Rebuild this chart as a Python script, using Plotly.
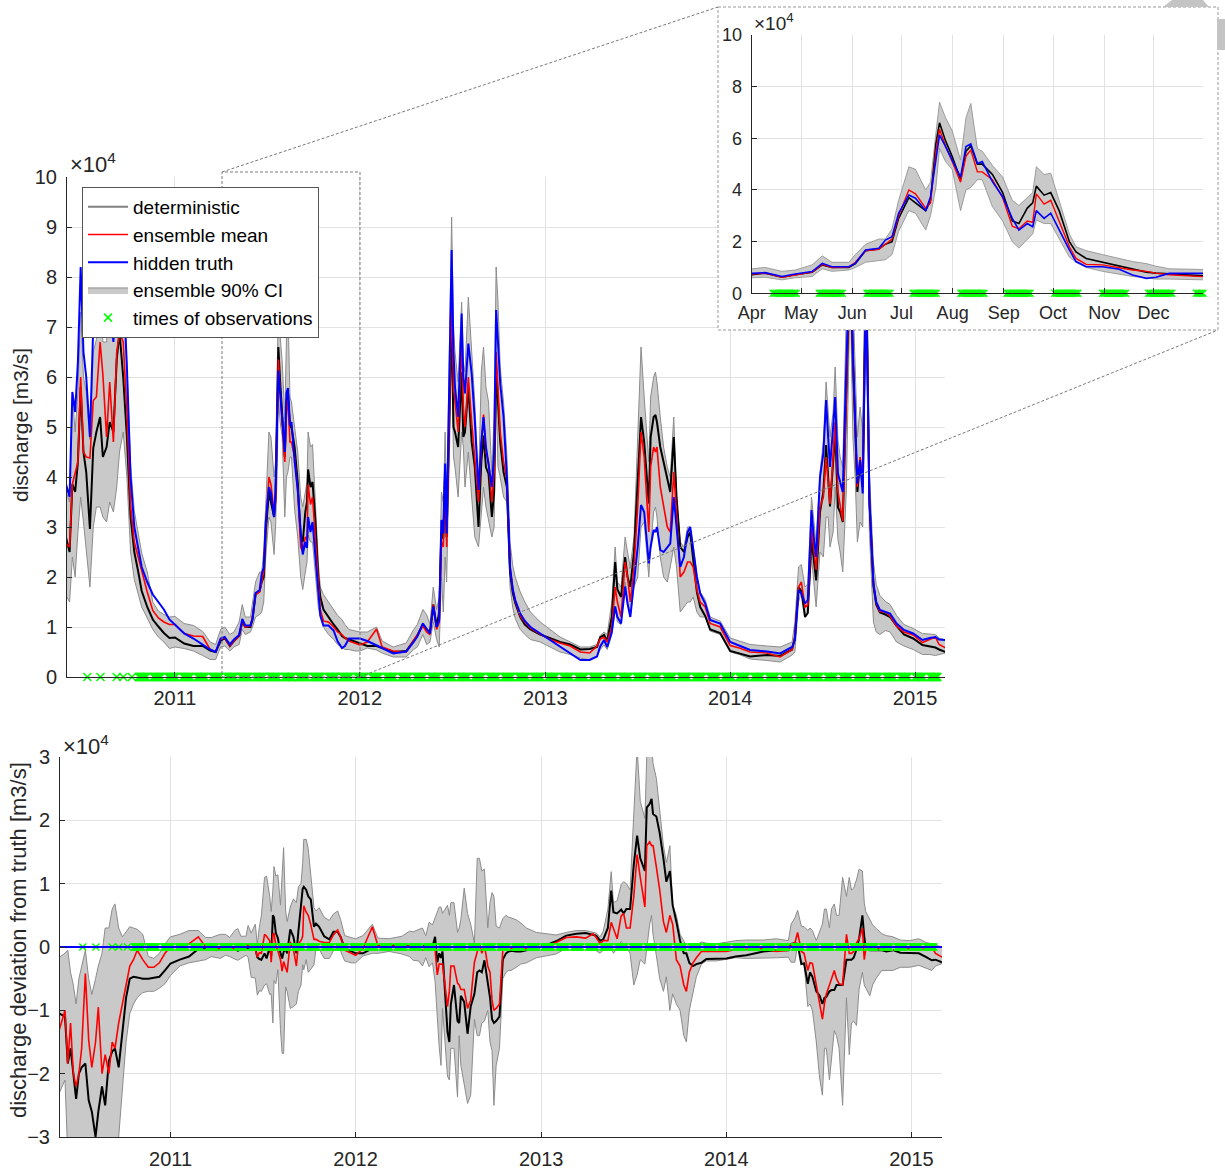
import numpy as np
import pandas as pd
import plotly.graph_objects as go

# ---------------- data (discharge in units of 1e4 m3/s) ----------------
# time in decimal years
T = [2010.40, 2010.43, 2010.445, 2010.46, 2010.475, 2010.49, 2010.505, 2010.52, 2010.54, 2010.558,
     2010.575, 2010.595, 2010.61, 2010.63, 2010.647, 2010.667, 2010.685, 2010.70, 2010.72, 2010.74,
     2010.76, 2010.78,
     2010.80, 2010.82, 2010.85, 2010.88, 2010.91, 2010.94, 2010.97, 2011.0, 2011.05, 2011.10,
     2011.15, 2011.19, 2011.22,
     2011.247, 2011.269, 2011.297, 2011.319, 2011.347, 2011.364, 2011.38, 2011.408, 2011.419, 2011.436,
     2011.458, 2011.469, 2011.48, 2011.491, 2011.508, 2011.519, 2011.536, 2011.544, 2011.553, 2011.559,
     2011.569, 2011.58, 2011.594, 2011.603, 2011.611, 2011.622, 2011.63, 2011.647, 2011.664, 2011.68,
     2011.691, 2011.705, 2011.714, 2011.72, 2011.733, 2011.744, 2011.758, 2011.775, 2011.786, 2011.803,
     2011.83, 2011.858, 2011.88, 2011.903, 2011.919, 2011.941, 2011.975,
     2012.0, 2012.04, 2012.09, 2012.12, 2012.18, 2012.25, 2012.29, 2012.31, 2012.34, 2012.36,
     2012.378, 2012.396, 2012.414, 2012.428, 2012.44, 2012.45, 2012.46, 2012.468, 2012.495, 2012.505,
     2012.513, 2012.53, 2012.549, 2012.558, 2012.567, 2012.585, 2012.603, 2012.62, 2012.64, 2012.655,
     2012.667, 2012.68, 2012.694, 2012.712, 2012.724, 2012.735, 2012.745, 2012.757, 2012.775, 2012.793,
     2012.81, 2012.825, 2012.838, 2012.865, 2012.89, 2012.92, 2012.973, 2013.027, 2013.08, 2013.135,
     2013.19, 2013.24, 2013.28,
     2013.297, 2013.318, 2013.335, 2013.36, 2013.378, 2013.39, 2013.41, 2013.432, 2013.445, 2013.46,
     2013.48, 2013.50, 2013.518, 2013.535, 2013.56, 2013.57, 2013.586, 2013.596, 2013.604, 2013.622,
     2013.64, 2013.66, 2013.676, 2013.695, 2013.71, 2013.73, 2013.75, 2013.77, 2013.784, 2013.80,
     2013.82, 2013.838, 2013.865, 2013.892, 2013.946, 2014.0, 2014.05, 2014.108, 2014.2, 2014.27,
     2014.335,
     2014.35, 2014.37, 2014.385, 2014.405, 2014.42, 2014.44, 2014.452, 2014.465, 2014.486, 2014.504,
     2014.519, 2014.53, 2014.54, 2014.557, 2014.568, 2014.583, 2014.595, 2014.609, 2014.628, 2014.649,
     2014.664, 2014.676, 2014.688, 2014.703, 2014.717, 2014.735, 2014.745, 2014.753, 2014.775, 2014.79,
     2014.81, 2014.84, 2014.865, 2014.9, 2014.94, 2014.99, 2015.04, 2015.08, 2015.11, 2015.13,
     2015.165]

TRUTH = [4.0, 3.6, 5.7, 5.3, 6.3, 8.2, 6.5, 6.0, 4.8, 7.0, 7.5, 8.2, 7.0, 6.8, 7.6, 6.7, 8.0, 8.5, 7.9, 6.2, 4.0, 3.0,
         2.6, 2.2, 1.9, 1.65, 1.5, 1.35, 1.15, 1.05, 0.87, 0.77, 0.65, 0.55, 0.5,
         0.77, 0.8, 0.65, 0.75, 0.84, 1.16, 1.03, 1.03, 1.16, 1.68, 1.74, 2.06, 2.19, 3.1, 3.8, 3.68, 3.2, 3.74, 5.3, 6.13,
         5.68, 5.16, 4.5, 5.68, 5.78, 5.03, 5.1, 4.32, 3.74, 2.9, 2.45, 2.7, 2.58, 3.2, 2.9, 3.1, 2.45, 1.68, 1.23, 1.03,
         1.03, 0.93, 0.71, 0.58, 0.62, 0.77, 0.77,
         0.77, 0.72, 0.64, 0.58, 0.47, 0.51, 0.7, 0.81, 1.07, 0.95, 0.87, 1.41, 1.0, 1.14, 3.14, 2.87, 4.27, 2.87, 8.54, 6.5,
         5.8, 5.2, 7.27, 6.0, 5.67, 6.67, 6.07, 5.14, 3.74, 4.7, 5.2, 4.6, 4.27, 3.8, 4.5, 7.34, 6.7, 5.87, 5.2, 4.0,
         2.2, 1.75, 1.54, 1.27, 1.12, 1.0, 0.87, 0.74, 0.61, 0.47, 0.34, 0.34, 0.41,
         0.61, 0.74, 0.6, 0.9, 1.41, 1.2, 1.07, 1.81, 1.47, 1.2, 1.9, 2.6, 3.44, 3.3, 2.27, 2.6, 2.94, 2.9, 3.0, 2.54,
         2.5, 2.6, 2.67, 3.6, 2.94, 2.2, 2.4, 2.9, 3.0, 2.6, 2.0, 1.67, 1.47, 1.14, 1.07, 0.7, 0.62, 0.54, 0.51, 0.47,
         0.6,
         0.74, 1.74, 1.67, 1.47, 1.54, 3.34, 2.8, 2.4, 4.0, 4.47, 5.54, 4.8, 4.2, 5.0, 5.6, 4.07, 3.9, 3.7, 6.2, 8.6,
         6.5, 5.2, 3.87, 4.34, 3.67, 8.0, 5.5, 3.54, 1.87, 1.5, 1.34, 1.3, 1.27, 1.07, 0.94, 0.87, 0.74, 0.78, 0.8, 0.75,
         0.74]

DET = [2.95, 2.5, 3.86, 3.7, 4.3, 5.8, 4.5, 4.1, 2.96, 4.58, 4.9, 5.2, 4.4, 4.6, 5.1, 4.9, 6.35, 6.9, 6.0, 4.8, 3.2, 2.5,
       2.13, 1.72, 1.4, 1.15, 1.01, 0.88, 0.78, 0.79, 0.67, 0.62, 0.62, 0.53, 0.5,
       0.72, 0.78, 0.62, 0.72, 0.82, 1.1, 1.0, 1.0, 1.15, 1.65, 1.72, 1.9, 2.0, 2.9, 3.7, 3.5, 3.2, 3.6, 5.8, 6.6,
       5.9, 5.3, 4.4, 5.5, 5.7, 5.0, 5.0, 4.6, 3.9, 2.8, 2.7, 3.3, 3.5, 4.15, 3.8, 3.9, 3.2, 2.0, 1.6, 1.35,
       1.2, 1.05, 0.95, 0.82, 0.78, 0.75, 0.7,
       0.67, 0.62, 0.62, 0.58, 0.5, 0.52, 0.72, 0.83, 1.05, 0.95, 0.9, 1.45, 1.0, 1.3, 2.9, 2.77, 4.1, 2.8, 7.2, 5.0,
       4.9, 4.6, 6.1, 4.8, 4.9, 5.8, 4.7, 4.2, 3.0, 4.3, 4.83, 4.2, 4.06, 3.2, 3.7, 6.2, 5.5, 4.7, 4.1, 3.8,
       2.1, 1.68, 1.48, 1.2, 1.05, 0.95, 0.85, 0.77, 0.7, 0.65, 0.55, 0.56, 0.6,
       0.79, 0.84, 0.72, 1.2, 2.3, 1.75, 1.6, 2.4, 2.0, 1.8, 2.5, 3.9, 5.2, 4.7, 3.47, 4.8, 5.2, 5.24, 5.1, 4.6,
       4.3, 4.0, 3.7, 4.8, 3.6, 2.6, 2.5, 2.8, 2.9, 2.35, 1.7, 1.4, 1.22, 0.95, 0.88, 0.52, 0.47, 0.41, 0.44, 0.42,
       0.55,
       0.79, 1.8, 1.72, 1.2, 1.28, 2.76, 2.4, 1.93, 3.3, 3.7, 4.64, 4.0, 3.41, 4.3, 4.92, 3.39, 3.3, 3.1, 5.6, 8.4,
       6.3, 5.0, 3.7, 4.3, 3.8, 8.5, 5.66, 3.55, 1.82, 1.45, 1.29, 1.25, 1.2, 1.02, 0.85, 0.77, 0.64, 0.62, 0.59, 0.55,
       0.5]

MEAN = [2.7, 2.6, 3.86, 4.1, 4.3, 6.0, 4.5, 4.4, 4.38, 5.53, 5.6, 6.7, 6.05, 4.8, 5.9, 4.7, 6.5, 6.9, 6.7, 5.3, 3.4, 2.7,
        2.4, 2.15, 1.7, 1.33, 1.18, 1.1, 1.05, 1.05, 0.87, 0.82, 0.81, 0.55, 0.5,
        0.75, 0.78, 0.62, 0.72, 0.82, 1.12, 1.0, 1.02, 1.2, 1.65, 1.7, 1.9, 2.1, 3.0, 4.0, 3.85, 3.3, 3.5, 5.5, 6.35,
        5.7, 5.1, 4.3, 5.3, 5.55, 4.7, 4.7, 4.4, 3.7, 2.6, 2.5, 2.8, 2.75, 3.85, 3.45, 3.6, 2.8, 1.8, 1.35, 1.12,
        1.1, 1.0, 0.9, 0.85, 0.78, 0.72, 0.68,
        0.64, 0.7, 0.96, 0.6, 0.52, 0.5, 0.72, 0.85, 1.02, 0.9, 0.85, 1.45, 0.95, 1.1, 2.7, 2.6, 4.0, 2.6, 7.6, 5.8,
        5.5, 4.9, 6.7, 5.4, 5.0, 6.0, 5.1, 4.3, 3.5, 4.6, 5.25, 4.5, 4.3, 3.5, 4.1, 6.5, 5.7, 4.9, 4.3, 3.95,
        2.2, 1.75, 1.52, 1.22, 1.1, 0.98, 0.86, 0.75, 0.68, 0.62, 0.5, 0.48, 0.62,
        0.76, 0.79, 0.7, 1.0, 1.8, 1.5, 1.2, 2.3, 2.0, 1.5, 2.2, 3.4, 4.9, 4.4, 2.9, 4.2, 4.6, 4.5, 4.6, 3.8,
        3.4, 3.0, 2.9, 4.1, 3.3, 2.0, 2.1, 2.3, 2.3, 2.2, 1.75, 1.5, 1.4, 1.07, 1.0, 0.63, 0.58, 0.5, 0.48, 0.4,
        0.55,
        0.79, 1.8, 1.9, 1.4, 1.44, 2.97, 2.55, 2.14, 3.4, 3.6, 4.4, 3.9, 3.46, 4.4, 5.1, 3.7, 3.4, 3.12, 5.6, 8.8,
        6.4, 5.1, 3.8, 4.4, 3.8, 8.3, 5.3, 3.5, 1.87, 1.48, 1.31, 1.3, 1.22, 1.02, 0.9, 0.84, 0.69, 0.76, 0.8, 0.65,
        0.58]

CI_LO = [1.7, 1.5, 2.4, 2.0, 2.9, 3.6, 3.1, 2.6, 1.8, 3.0, 3.4, 3.4, 3.2, 3.1, 3.5, 3.3, 3.8, 4.5, 4.9, 4.0, 2.5, 1.95,
         1.7, 1.4, 1.18, 0.95, 0.8, 0.7, 0.57, 0.6, 0.57, 0.52, 0.43, 0.35, 0.35,
         0.6, 0.62, 0.52, 0.6, 0.65, 0.95, 0.85, 0.9, 1.0, 1.2, 1.25, 1.3, 1.5, 2.4, 3.2, 3.1, 2.45, 3.0, 4.1, 5.6,
         5.1, 4.8, 3.2, 4.0, 4.1, 4.4, 4.4, 3.35, 2.8, 2.0, 1.75, 2.1, 2.3, 2.84, 2.7, 2.7, 2.1, 1.4, 1.2, 1.0,
         0.85, 0.75, 0.65, 0.6, 0.55, 0.55, 0.52,
         0.52, 0.58, 0.54, 0.48, 0.4, 0.4, 0.55, 0.6, 0.85, 0.65, 0.7, 1.1, 0.75, 0.6, 2.0, 1.3, 2.4, 1.9, 6.5, 4.4,
         4.2, 3.6, 4.9, 4.6, 3.8, 4.5, 3.6, 2.8, 2.6, 3.3, 3.8, 3.4, 3.1, 2.8, 3.0, 5.7, 4.2, 4.0, 3.6, 3.5,
         1.8, 1.38, 1.17, 0.95, 0.85, 0.75, 0.7, 0.6, 0.5, 0.45, 0.38, 0.34, 0.42,
         0.55, 0.64, 0.55, 0.85, 1.4, 1.1, 1.05, 1.9, 1.5, 1.2, 1.8, 2.0, 3.0, 3.1, 2.0, 2.6, 3.3, 3.4, 3.2, 2.4,
         2.0, 1.9, 2.2, 2.6, 2.2, 1.3, 1.4, 1.5, 1.5, 1.6, 1.3, 1.2, 1.2, 0.92, 0.85, 0.5, 0.45, 0.36, 0.33, 0.3,
         0.44,
         0.5, 1.5, 1.7, 1.25, 1.28, 2.4, 1.9, 1.4, 2.5, 2.4, 3.2, 3.2, 2.6, 2.9, 3.8, 2.75, 2.5, 2.1, 3.7, 7.8,
         4.8, 4.0, 2.7, 3.1, 3.0, 7.6, 4.9, 2.9, 1.1, 0.9, 0.85, 0.93, 0.9, 0.7, 0.62, 0.55, 0.45, 0.45, 0.43, 0.45,
         0.48]

CI_HI = [3.84, 3.5, 5.65, 4.9, 5.7, 7.3, 6.0, 5.7, 4.75, 6.5, 6.75, 7.7, 6.7, 6.7, 7.9, 7.0, 8.6, 9.18, 8.2, 6.36, 4.25, 3.32,
         2.9, 2.48, 2.1, 1.5, 1.32, 1.25, 1.2, 1.21, 1.07, 1.03, 0.91, 0.7, 0.65,
         0.95, 1.0, 0.85, 0.9, 1.1, 1.45, 1.2, 1.2, 1.5, 1.9, 2.1, 2.1, 2.5, 3.6, 4.9, 4.8, 4.0, 4.3, 6.2, 7.4,
         6.8, 6.3, 5.16, 6.8, 7.35, 5.6, 5.5, 4.95, 4.5, 3.6, 3.4, 3.7, 3.9, 4.9, 4.6, 4.65, 3.6, 2.3, 1.8, 1.65,
         1.5, 1.35, 1.23, 1.15, 1.05, 0.95, 0.92,
         0.9, 0.9, 1.0, 0.72, 0.6, 0.68, 0.95, 1.05, 1.35, 1.25, 1.05, 1.8, 1.35, 1.6, 3.7, 3.5, 4.9, 3.4, 9.2, 7.0,
         6.5, 5.9, 7.5, 6.3, 6.1, 7.6, 6.6, 5.5, 3.8, 6.1, 6.6, 5.8, 5.5, 4.1, 5.2, 8.2, 7.5, 6.2, 5.5, 4.45,
         2.7, 2.22, 2.0, 1.7, 1.5, 1.3, 1.1, 0.95, 0.8, 0.7, 0.6, 0.6, 0.65,
         0.83, 0.9, 0.85, 1.5, 2.6, 1.9, 1.8, 2.8, 2.5, 2.2, 2.8, 4.7, 6.6, 5.6, 4.3, 5.6, 6.0, 6.1, 5.9, 5.2,
         4.6, 4.2, 4.0, 5.2, 3.6, 2.7, 2.6, 3.0, 3.0, 2.65, 2.05, 1.7, 1.55, 1.2, 1.12, 0.78, 0.72, 0.65, 0.62, 0.6,
         0.7,
         1.1, 2.2, 2.25, 1.8, 1.86, 3.6, 3.1, 2.66, 4.1, 4.7, 5.9, 5.4, 4.8, 5.3, 6.2, 4.75, 4.4, 4.2, 7.3, 9.4,
         7.6, 6.1, 4.8, 5.4, 4.9, 9.2, 6.2, 4.1, 2.3, 1.85, 1.63, 1.51, 1.45, 1.23, 1.05, 0.97, 0.87, 0.85, 0.85, 0.78,
         0.74]

# observation times: isolated early observations, then ~15-day observation windows
OBS_SINGLE = ["2010-07-12", "2010-08-07", "2010-09-08", "2010-09-21", "2010-10-08"]
OBS_WINDOW_STARTS = [
    "2010-10-22", "2010-11-20", "2010-12-19", "2011-01-17", "2011-02-15", "2011-03-16", "2011-04-14",
    "2011-05-12", "2011-06-10", "2011-07-08", "2011-08-06", "2011-09-03", "2011-10-02", "2011-10-31",
    "2011-11-28", "2011-12-27", "2012-01-25", "2012-02-23", "2012-03-23", "2012-04-21", "2012-05-20",
    "2012-06-18", "2012-07-17", "2012-08-15", "2012-09-13", "2012-10-12", "2012-11-10", "2012-12-09",
    "2013-01-07", "2013-02-05", "2013-03-06", "2013-04-04", "2013-05-03", "2013-06-01", "2013-06-30",
    "2013-07-29", "2013-08-27", "2013-09-25", "2013-10-24", "2013-11-22", "2013-12-21", "2014-01-19",
    "2014-02-17", "2014-03-18", "2014-04-16", "2014-05-15", "2014-06-13", "2014-07-12", "2014-08-10",
    "2014-09-08", "2014-10-07", "2014-11-05", "2014-12-04", "2015-01-02", "2015-01-31"]
OBS_WINDOW_DAYS = 15

YEAR_TICKS = ["2011-01-01", "2012-01-01", "2013-01-01", "2014-01-01", "2015-01-01"]

for name, arr in [("TRUTH", TRUTH), ("DET", DET), ("MEAN", MEAN), ("CI_LO", CI_LO), ("CI_HI", CI_HI)]:
    if len(arr) != len(T):
        print("length mismatch", name, len(arr), len(T))


def dec2date(v):
    y = int(np.floor(v))
    a = pd.Timestamp(year=y, month=1, day=1)
    b = pd.Timestamp(year=y + 1, month=1, day=1)
    return (a + (b - a) * (v - y)).strftime("%Y-%m-%d %H:%M")


tx = [dec2date(v) for v in T]
truth = np.array(TRUTH)
det = np.array(DET)
mean = np.array(MEAN)
lo = np.array(CI_LO)
hi = np.array(CI_HI)

obs = list(OBS_SINGLE)
for s in OBS_WINDOW_STARTS:
    obs += [d.strftime("%Y-%m-%d") for d in pd.date_range(s, periods=OBS_WINDOW_DAYS, freq="D")]
obs_inset = [d for d in obs if "2011-04-01" <= d <= "2011-12-31"]

# ---------------- styling ----------------
W, H = 1225, 1173
FONT = "Liberation Sans, Arial, Helvetica, sans-serif"
AX = "#262626"
GRID = "#e2e2e2"
FILL = "#c9c9c9"
EDGE = "#8c8c8c"
GREEN = "#00ff00"


def px(x):
    return x / W


def py(y):
    return 1 - y / H


fig = go.Figure()

# ---- main panel ----
fig.add_trace(go.Scatter(x=tx, y=lo, mode="lines", line=dict(color=EDGE, width=1),
                         showlegend=False, hoverinfo="skip", xaxis="x", yaxis="y"))
fig.add_trace(go.Scatter(x=tx, y=hi, mode="lines", line=dict(color=EDGE, width=1), fill="tonexty",
                         fillcolor=FILL, name="ensemble 90% CI", legendrank=4, xaxis="x", yaxis="y"))
fig.add_trace(go.Scatter(x=tx, y=det, mode="lines", line=dict(color="#000000", width=2),
                         showlegend=False, xaxis="x", yaxis="y"))
fig.add_trace(go.Scatter(x=tx, y=mean, mode="lines", line=dict(color="#ff0000", width=1.6),
                         name="ensemble mean", legendrank=2, xaxis="x", yaxis="y"))
fig.add_trace(go.Scatter(x=tx, y=truth, mode="lines", line=dict(color="#0000ff", width=2),
                         name="hidden truth", legendrank=3, xaxis="x", yaxis="y"))
fig.add_trace(go.Scatter(x=obs, y=[0] * len(obs), mode="markers", cliponaxis=False,
                         marker=dict(symbol="x-thin", size=8, line=dict(color=GREEN, width=1.5), color=GREEN),
                         name="times of observations", legendrank=5, xaxis="x", yaxis="y"))
# legend entry for the deterministic run (drawn grey in the legend)
fig.add_trace(go.Scatter(x=[None], y=[None], mode="lines", line=dict(color="#808080", width=2),
                         name="deterministic", legendrank=1, xaxis="x", yaxis="y"))

# ---- white box behind the inset (full-page overlay axes) ----
fig.add_trace(go.Scatter(x=[718, 1218, 1218, 718, 718], y=[7, 7, 330, 330, 7], mode="lines",
                         fill="toself", fillcolor="white", line=dict(color="#9a9a9a", width=1, dash="3px,2px"),
                         showlegend=False, hoverinfo="skip", xaxis="x2", yaxis="y2"))

# ---- inset ----
fig.add_trace(go.Scatter(x=tx, y=lo, mode="lines", line=dict(color=EDGE, width=0.8),
                         showlegend=False, hoverinfo="skip", xaxis="x3", yaxis="y3"))
fig.add_trace(go.Scatter(x=tx, y=hi, mode="lines", line=dict(color=EDGE, width=0.8), fill="tonexty",
                         fillcolor=FILL, showlegend=False, xaxis="x3", yaxis="y3"))
fig.add_trace(go.Scatter(x=tx, y=det, mode="lines", line=dict(color="#000000", width=1.6),
                         showlegend=False, xaxis="x3", yaxis="y3"))
fig.add_trace(go.Scatter(x=tx, y=mean, mode="lines", line=dict(color="#ff0000", width=1.4),
                         showlegend=False, xaxis="x3", yaxis="y3"))
fig.add_trace(go.Scatter(x=tx, y=truth, mode="lines", line=dict(color="#0000ff", width=1.6),
                         showlegend=False, xaxis="x3", yaxis="y3"))
fig.add_trace(go.Scatter(x=obs_inset, y=[0] * len(obs_inset), mode="markers", cliponaxis=False,
                         marker=dict(symbol="x-thin", size=7, line=dict(color=GREEN, width=1.3), color=GREEN),
                         showlegend=False, xaxis="x3", yaxis="y3"))

# ---- bottom: deviations from truth ----
fig.add_trace(go.Scatter(x=tx, y=lo - truth, mode="lines", line=dict(color=EDGE, width=1),
                         showlegend=False, hoverinfo="skip", xaxis="x4", yaxis="y4"))
fig.add_trace(go.Scatter(x=tx, y=hi - truth, mode="lines", line=dict(color=EDGE, width=1), fill="tonexty",
                         fillcolor=FILL, showlegend=False, xaxis="x4", yaxis="y4"))
fig.add_trace(go.Scatter(x=tx, y=det - truth, mode="lines", line=dict(color="#000000", width=2),
                         showlegend=False, xaxis="x4", yaxis="y4"))
fig.add_trace(go.Scatter(x=tx, y=mean - truth, mode="lines", line=dict(color="#ff0000", width=1.6),
                         showlegend=False, xaxis="x4", yaxis="y4"))
fig.add_trace(go.Scatter(x=obs, y=[0] * len(obs), mode="markers", cliponaxis=False,
                         marker=dict(symbol="x-thin", size=7, line=dict(color=GREEN, width=1.4), color=GREEN),
                         showlegend=False, xaxis="x4", yaxis="y4"))
fig.add_trace(go.Scatter(x=tx, y=truth - truth, mode="lines", line=dict(color="#0000ff", width=2),
                         showlegend=False, xaxis="x4", yaxis="y4"))

common = dict(showgrid=True, gridcolor=GRID, gridwidth=1, showline=True, linecolor=AX, linewidth=1,
              ticks="inside", ticklen=5, tickcolor=AX, zeroline=False, automargin=False,
              tickfont=dict(family=FONT, size=20, color=AX))
small = {**common, "tickfont": dict(family=FONT, size=18, color=AX)}

fig.update_layout(
    width=W, height=H, autosize=False,
    margin=dict(l=0, r=0, t=0, b=0, pad=0),
    paper_bgcolor="white", plot_bgcolor="rgba(0,0,0,0)",
    font=dict(family=FONT, color=AX),
    xaxis=dict(domain=[px(67), px(945)], type="date", anchor="y",
               range=[dec2date(2010.416), dec2date(2015.162)],
               tickvals=YEAR_TICKS, tickformat="%Y", ticklabelstandoff=3, **common),
    yaxis=dict(domain=[py(677), py(177)], range=[0, 10], dtick=1, anchor="x", ticklabelstandoff=5, **common),
    xaxis2=dict(domain=[0, 1], range=[0, W], visible=False, anchor="y2", fixedrange=True, automargin=False),
    yaxis2=dict(domain=[0, 1], range=[H, 0], visible=False, anchor="x2", fixedrange=True, automargin=False),
    xaxis3=dict(domain=[px(751.7), px(1203)], type="date", anchor="y3",
                range=["2011-04-01", "2011-12-31"], tick0="2011-04-01", dtick="M1", tickformat="%b",
                ticklabelstandoff=3, **small),
    yaxis3=dict(domain=[py(293.3), py(35)], range=[0, 10], dtick=2, anchor="x3", ticklabelstandoff=5, **small),
    xaxis4=dict(domain=[px(60), px(942)], type="date", anchor="y4",
                range=[dec2date(2010.403), dec2date(2015.165)],
                tickvals=YEAR_TICKS, tickformat="%Y", ticklabelstandoff=4, **common),
    yaxis4=dict(domain=[py(1137), py(757)], range=[-3, 3], dtick=1, anchor="x4", ticklabelstandoff=5, **common),
    legend=dict(x=px(82), y=py(187), xanchor="left", yanchor="top", bgcolor="white",
                bordercolor="#555555", borderwidth=1, font=dict(family=FONT, size=19, color="#000000"),
                traceorder="normal", itemwidth=40),
    showlegend=True,
)

annos = [
    dict(x=px(68), y=py(163), text="×10<sup>4</sup>", font=dict(size=22, color=AX, family=FONT)),
    dict(x=px(752), y=py(22), text="×10<sup>4</sup>", font=dict(size=19, color=AX, family=FONT)),
    dict(x=px(61), y=py(745), text="×10<sup>4</sup>", font=dict(size=22, color=AX, family=FONT)),
]
for a in annos:
    fig.add_annotation(xref="paper", yref="paper", xanchor="left", yanchor="middle", showarrow=False, **a)

fig.add_annotation(xref="paper", yref="paper", x=px(20), y=py(425), text="discharge [m3/s]",
                   xanchor="center", yanchor="middle", textangle=-90, showarrow=False,
                   font=dict(size=21, color=AX, family=FONT))
fig.add_annotation(xref="paper", yref="paper", x=px(18), y=py(940), text="discharge deviation from truth [m3/s]",
                   xanchor="center", yanchor="middle", textangle=-90, showarrow=False,
                   font=dict(size=22, color=AX, family=FONT))

# dashed zoom rectangle and connector lines
dash_line = dict(color="#7a7a7a", width=1, dash="3px,2px")
fig.add_shape(type="rect", xref="paper", yref="paper", x0=px(222), x1=px(360), y0=py(677), y1=py(172),
              line=dash_line, layer="above")
fig.add_shape(type="line", xref="paper", yref="paper", x0=px(222), y0=py(172), x1=px(718), y1=py(7),
              line=dash_line, layer="above")
fig.add_shape(type="line", xref="paper", yref="paper", x0=px(360), y0=py(677), x1=px(1218), y1=py(330),
              line=dash_line, layer="above")

# grey page artefacts at the top-right corner of the reference
fig.add_shape(type="path", xref="paper", yref="paper",
              path=f"M {px(1163)},{py(7)} L {px(1172)},{py(0)} L {px(1203)},{py(0)} L {px(1209)},{py(7)} Z",
              fillcolor="#c4c4c4", line=dict(width=0), layer="above")
fig.add_shape(type="rect", xref="paper", yref="paper", x0=px(1217), x1=px(1225), y0=py(50), y1=py(19),
              fillcolor="#c4c4c4", line=dict(width=0), layer="above")

fig.write_html("out.html", config={"displayModeBar": False},
               post_script="document.body.style.margin='0px';document.body.style.overflow='hidden';")
